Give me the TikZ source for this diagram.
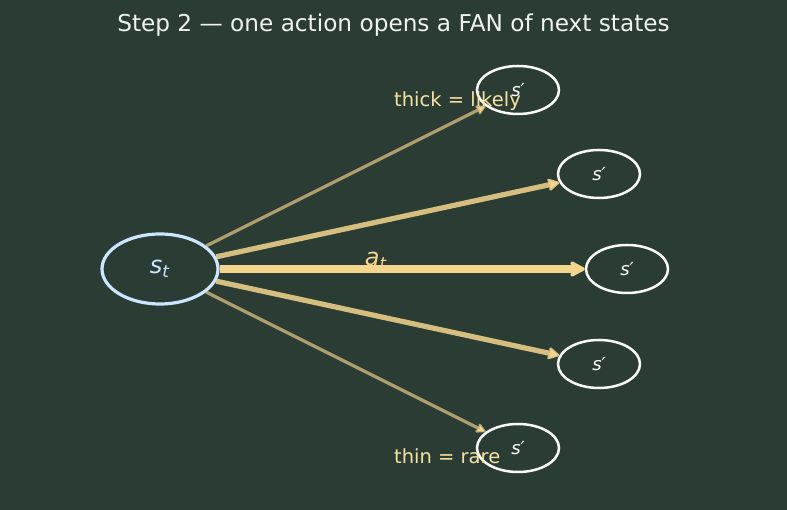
\documentclass[tikz,border=0pt]{standalone}
\usepackage{fontspec}
\setmainfont{DejaVu Sans}
\usetikzlibrary{shapes.geometric,arrows.meta}
\definecolor{bg}{HTML}{2B3C35}
\definecolor{gold}{HTML}{F3D68B}
\definecolor{label}{HTML}{F5E3A0}
\definecolor{stblue}{HTML}{CCE6FF}
\definecolor{titlec}{HTML}{F0F2EC}
\tikzset{
  cur/.style={ellipse, draw=stblue, line width=3.2pt, minimum width=116pt, minimum height=70pt, inner sep=0pt, text=stblue, font=\fontsize{24}{24}\selectfont},
  nxt/.style={ellipse, draw=white!95!gray, line width=2.5pt, minimum width=82pt, minimum height=48pt, inner sep=0pt, text=white, font=\fontsize{18}{18}\selectfont},
  fanA/.style={draw=gold, line width=8pt, -{Stealth[round,length=18pt,width=19pt,inset=4pt]}},
  fanB/.style={draw=gold, draw opacity=0.85, line width=5.2pt, -{Stealth[round,length=14pt,width=15pt,inset=3pt]}},
  fanC/.style={draw=gold, draw opacity=0.65, line width=3.3pt, -{Stealth[round,length=12pt,width=12pt,inset=2.5pt]}},
  lbl/.style={text=label, font=\fontsize{19.5}{19.5}\selectfont}
}
\begin{document}
\begin{tikzpicture}[x=1pt,y=1pt]
\fill[bg] (0,0) rectangle (787,510);
\useasboundingbox (0,0) rectangle (787,510);
\node[text=titlec, font=\fontsize{23.2}{23.2}\selectfont] (title) at (393.5,485) {Step 2 — one action opens a FAN of next states};
\node[cur] (st) at (160,241) {\textit{s}\textsubscript{\textit{t}}};
\node[nxt] (n1) at (518,420) {\textit{s′}};
\node[nxt] (n2) at (599,336) {\textit{s′}};
\node[nxt] (n3) at (627,241) {\textit{s′}};
\node[nxt] (n4) at (599,146) {\textit{s′}};
\node[nxt] (n5) at (518,62) {\textit{s′}};
\draw[fanC] (st) -- (n1);
\draw[fanB] (st) -- (n2);
\draw[fanA] (st) -- (n3);
\draw[fanB] (st) -- (n4);
\draw[fanC] (st) -- (n5);
\node[text=gold, font=\fontsize{24}{24}\selectfont] (at) at (376,249) {\textit{a}\textsubscript{\textit{t}}};
\node[lbl, anchor=west, inner sep=0pt] (thick) at (394,409) {thick = likely};
\node[lbl, anchor=west, inner sep=0pt] (thin) at (394,54) {thin = rare};
\end{tikzpicture}
\end{document}
